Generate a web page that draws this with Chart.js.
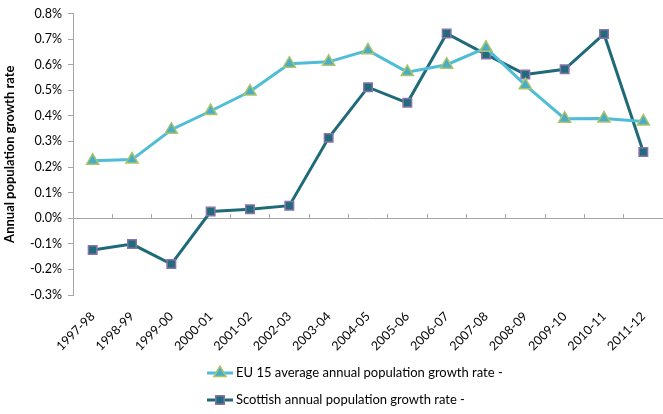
<!DOCTYPE html>
<html>
<head>
<meta charset="utf-8">
<script src="https://cdn.jsdelivr.net/npm/chart.js@4.4.0/dist/chart.umd.min.js"></script>
<style>
  html, body { margin: 0; padding: 0; background: #fff; }
  #wrap { width: 663px; height: 414px; position: relative; }
</style>
</head>
<body>
<div id="wrap"><canvas id="growthChart"></canvas></div>
<script>
// --- data ---
const years = ['1997-98', '1998-99', '1999-00', '2000-01', '2001-02', '2002-03', '2003-04', '2004-05',
               '2005-06', '2006-07', '2007-08', '2008-09', '2009-10', '2010-11', '2011-12'];
const euGrowth = [0.225, 0.229, 0.346, 0.419, 0.495, 0.604, 0.611, 0.656, 0.571, 0.600, 0.666, 0.520, 0.389, 0.390, 0.378];
const scotGrowth = [-0.124, -0.101, -0.179, 0.026, 0.035, 0.049, 0.314, 0.512, 0.451, 0.722, 0.640, 0.562, 0.582, 0.720, 0.259];
const yMin = -0.3;
const yMax = 0.8;
const yStep = 0.1;

const axisGrey = '#a6a6a6';
const fontFamily = 'Lato, "Open Sans", sans-serif';

// legend drawn in two rows under the axis labels, like the original
const rowLegend = {
    id: 'rowLegend',
    afterDraw(chart, args, opts) {
        const ctx = chart.ctx;
        ctx.save();
        ctx.font = opts.font;
        ctx.textBaseline = 'middle';
        ctx.textAlign = 'left';
        chart.data.datasets.forEach((ds, i) => {
            const y = chart.height - opts.bottom + i * opts.rowGap;
            const x0 = opts.left;
            ctx.strokeStyle = ds.borderColor;
            ctx.lineWidth = ds.borderWidth;
            ctx.beginPath();
            ctx.moveTo(x0, y);
            ctx.lineTo(x0 + opts.lineLen, y);
            ctx.stroke();

            const cx = x0 + opts.lineLen / 2;
            const r = ds.pointRadius;
            ctx.fillStyle = ds.pointBackgroundColor;
            ctx.strokeStyle = ds.pointBorderColor;
            ctx.lineWidth = ds.pointBorderWidth;
            ctx.beginPath();
            if (ds.pointStyle === 'triangle') {
                ctx.moveTo(cx, y - r);
                ctx.lineTo(cx + r * 0.866, y + r / 2);
                ctx.lineTo(cx - r * 0.866, y + r / 2);
                ctx.closePath();
            } else {
                const s = r * Math.SQRT1_2;
                ctx.rect(cx - s, y - s, 2 * s, 2 * s);
            }
            ctx.fill();
            ctx.stroke();

            ctx.fillStyle = '#000';
            ctx.fillText(ds.label, x0 + opts.lineLen + 3, y);
        });
        ctx.restore();
    }
};

const ctxLine = document.getElementById('growthChart').getContext('2d');
new Chart(ctxLine, {
    type: 'line',
    data: {
        labels: years,
        datasets: [
            {
                label: 'EU 15 average annual population growth rate -',
                data: euGrowth,
                borderColor: '#4fbdd6',
                borderWidth: 3,
                pointStyle: 'triangle',
                pointRadius: 7,
                pointBackgroundColor: '#4bacc6',
                pointBorderColor: '#a9c46c',
                pointBorderWidth: 1.5,
                tension: 0
            },
            {
                label: 'Scottish annual population growth rate -',
                data: scotGrowth,
                borderColor: '#1f6a78',
                borderWidth: 3,
                pointStyle: 'rect',
                pointRadius: 6,
                pointBackgroundColor: '#226b7b',
                pointBorderColor: '#8a72ad',
                pointBorderWidth: 1.5,
                tension: 0
            }
        ]
    },
    options: {
        responsive: true,
        maintainAspectRatio: false,
        animation: false,
        layout: { autoPadding: false, padding: { top: 12, right: -3, bottom: 0, left: 0 } },
        plugins: {
            legend: { display: false },
            tooltip: { enabled: false },
            rowLegend: {
                left: 207,
                lineLen: 26,
                bottom: 41,
                rowGap: 27,
                font: '13px ' + fontFamily
            }
        },
        scales: {
            y: {
                min: yMin,
                max: yMax,
                afterFit: s => { s.width = 73; },
                ticks: {
                    stepSize: yStep,
                    color: '#000',
                    padding: 6,
                    font: { family: fontFamily, size: 12.5 },
                    callback: v => v.toFixed(1) + '%'
                },
                grid: {
                    drawOnChartArea: false,
                    tickLength: 5,
                    tickColor: axisGrey
                },
                border: { color: axisGrey },
                title: {
                    display: true,
                    text: 'Annual population growth rate',
                    color: '#000',
                    font: { family: fontFamily, size: 13, weight: 'bold' },
                    padding: { top: 2, bottom: 0 }
                }
            },
            x: {
                offset: true,
                afterFit: s => { s.height = 119; s.paddingRight = 0; },
                grid: { display: false, drawTicks: false },
                border: { display: false },
                ticks: {
                    minRotation: 45,
                    maxRotation: 45,
                    padding: 14,
                    color: '#000',
                    font: { family: fontFamily, size: 12.5 }
                }
            },
            xZero: {
                type: 'category',
                labels: years,
                position: { y: 0 },
                offset: true,
                grid: {
                    offset: true,
                    drawOnChartArea: false,
                    tickLength: -5,
                    color: axisGrey
                },
                border: { color: axisGrey },
                ticks: { display: false }
            }
        }
    },
    plugins: [rowLegend]
});
</script>
</body>
</html>
